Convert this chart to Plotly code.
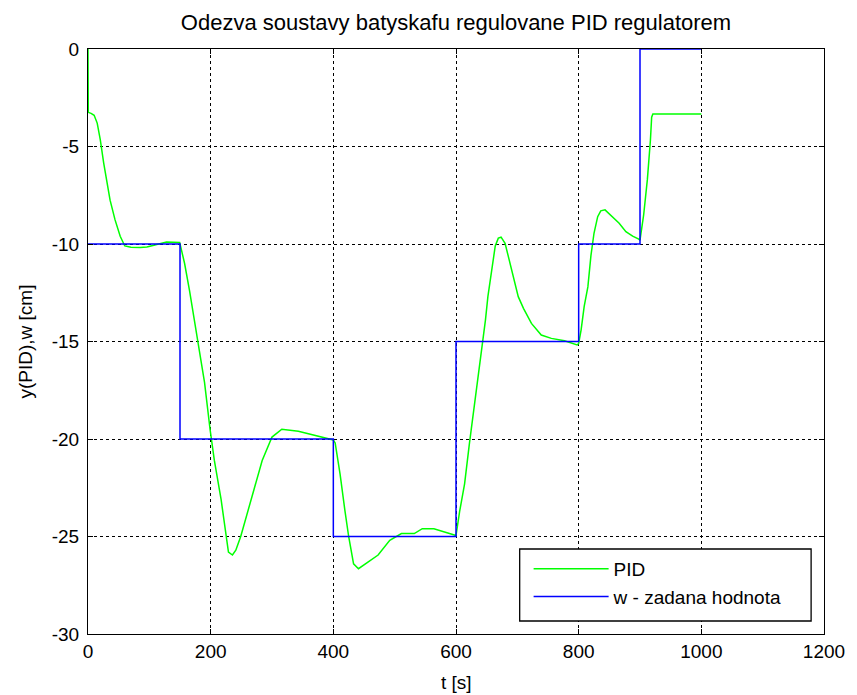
import plotly.graph_objects as go

# PID response (t [s], y [cm])
t_pid = [0, 0.5, 5, 10, 15, 20, 25.6, 31, 36, 44, 52.5, 60, 70, 85, 96, 109, 128, 149.5,
         157.5, 165.6, 179, 190, 199, 206, 217, 225, 229, 235.5, 241, 249, 262.6, 276, 284,
         300, 316, 343, 370, 396, 400, 403, 411, 419, 425, 433, 441, 457, 473, 492, 511,
         532, 545, 564, 580, 598, 600, 606, 614, 622, 631, 637, 643.5, 648, 652, 658.5,
         664, 669, 673.5, 680, 685.5, 693.5, 701.5, 710, 723, 739, 755.5, 777, 790.5,
         797.5, 800, 804, 809, 815, 820, 825, 831, 836, 843, 855, 866, 877, 888, 898,
         900, 906, 912, 917, 919, 921, 1000]
y_pid = [0, -3.25, -3.3, -3.4, -3.8, -4.65, -5.85, -6.9, -7.75, -8.75, -9.6, -10.1, -10.17,
         -10.18, -10.15, -10.05, -9.9, -9.92,
         -11.0, -12.4, -14.9, -17.1, -19.5, -21.1, -23.1, -25.0, -25.8, -25.95, -25.7, -25.0,
         -23.5, -22.1, -21.1,
         -19.9, -19.5, -19.6, -19.8, -20.0, -20.05, -20.2, -21.8, -23.7, -25.0, -26.4, -26.65,
         -26.3, -25.95, -25.2, -24.85,
         -24.85, -24.6, -24.6, -24.75, -24.9, -24.95, -23.7, -22.3, -20.2, -18.0, -16.8, -15.0,
         -13.9, -12.7, -11.3,
         -10.1, -9.7, -9.65, -9.96, -10.65, -11.7, -12.7, -13.3, -14.07, -14.67, -14.84, -14.96,
         -15.13,
         -15.18, -15.1, -14.4, -13.2, -12.2, -10.6, -9.45, -8.6, -8.3, -8.25, -8.6, -8.94, -9.37,
         -9.6, -9.75,
         -9.8, -8.5, -6.7, -4.67, -3.5, -3.33, -3.33]

# Setpoint w (step changes)
t_w = [0, 150, 400, 600, 800, 900, 1000]
w_vals = [-10, -20, -25, -15, -10, 0, 0]

x_ticks = [0, 200, 400, 600, 800, 1000, 1200]
y_ticks = [0, -5, -10, -15, -20, -25, -30]
x_tick_labels = ["0", "200", "400", "600", "800", "1000", "1200"]
y_tick_labels = ["0", "-5", "-10", "-15", "-20", "-25", "-30"]

FONT = "Liberation Sans, Arial, Helvetica, sans-serif"

fig = go.Figure()
fig.add_trace(go.Scatter(x=t_pid, y=y_pid, mode="lines", name="PID",
                         line=dict(color="#00FF00", width=1.5)))
fig.add_trace(go.Scatter(x=t_w, y=w_vals, mode="lines", name="w - zadana hodnota",
                         line=dict(color="#0000FF", width=1.5, shape="hv")))

L, R, T, B = 87.5, 830, 49, 634
W, H = 857, 695


def px_x(p):
    return (p - L) / (R - L)


def px_y(p):
    return (B - p) / (B - T)


axis_common = dict(showline=True, linecolor="black", linewidth=1, mirror="ticks",
                   ticks="inside", ticklen=5, tickcolor="black",
                   showgrid=True, gridcolor="black", griddash="dot", gridwidth=1,
                   zeroline=False, tickfont=dict(family=FONT, size=19, color="black"))

fig.update_layout(
    width=W, height=H,
    margin=dict(l=L, r=W - R, t=T, b=H - B),
    paper_bgcolor="white", plot_bgcolor="white",
    font=dict(family=FONT, color="black"),
    showlegend=True,
    title=dict(text="Odezva soustavy batyskafu regulovane PID regulatorem",
               x=0.5, xref="paper", xanchor="center",
               y=1 - 22 / H, yref="container", yanchor="middle",
               font=dict(family=FONT, size=22, color="black")),
    xaxis=dict(range=[0, 1200], tickvals=x_ticks, ticktext=x_tick_labels, **axis_common),
    yaxis=dict(range=[-30, 0], tickvals=y_ticks, ticktext=y_tick_labels,
               ticklabelstandoff=4, **axis_common),
    legend=dict(x=px_x(532), y=px_y(550),
                xanchor="left", yanchor="top",
                bgcolor="rgba(0,0,0,0)", borderwidth=0,
                font=dict(family=FONT, size=19, color="black"),
                itemwidth=75, tracegroupgap=0),
    shapes=[
        dict(type="rect", xref="paper", yref="paper", layer="above",
             x0=px_x(523), x1=px_x(817), y0=px_y(621), y1=px_y(549),
             fillcolor="white", line=dict(color="black", width=1.3)),
    ],
    annotations=[
        dict(text="t [s]", xref="paper", yref="paper", x=0.5,
             y=px_y(682), xanchor="center", yanchor="middle",
             showarrow=False, font=dict(family=FONT, size=19, color="black")),
        dict(text="y(PID),w [cm]", xref="paper", yref="paper",
             x=px_x(24), y=0.5, xanchor="center", yanchor="middle",
             textangle=-90, showarrow=False,
             font=dict(family=FONT, size=19, color="black")),
    ],
)

fig.write_html("out.html")
